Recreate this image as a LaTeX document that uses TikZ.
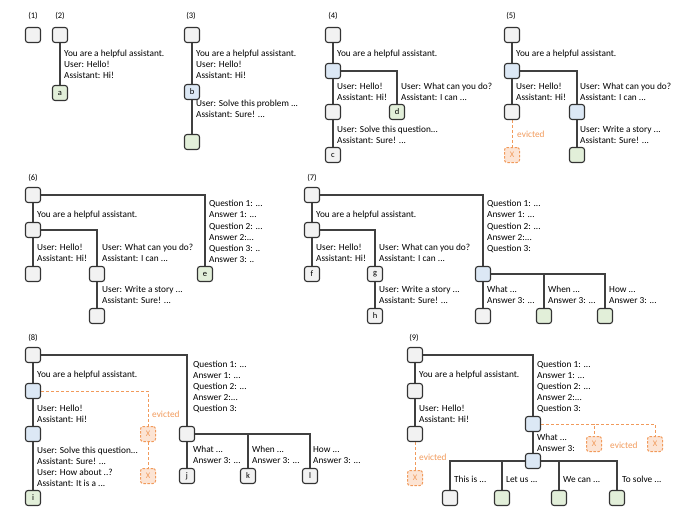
\documentclass[tikz,border=0pt]{standalone}
\usepackage{fontspec}
\setmainfont{Carlito}
\usetikzlibrary{backgrounds}
\definecolor{greyf}{HTML}{F2F2F2}
\definecolor{bluef}{HTML}{DCE8F5}
\definecolor{greenf}{HTML}{E2EFD9}
\definecolor{boxc}{HTML}{333333}
\definecolor{edgec}{HTML}{404040}
\definecolor{orl}{HTML}{F19A5B}
\definecolor{orf}{HTML}{FCE4D4}
\tikzset{
 box/.style={draw=boxc, line width=1.1pt, rounded corners=2.5pt, minimum width=15pt, minimum height=15pt, inner sep=0pt, font=\fontsize{8.5}{8.5}\selectfont},
 gbox/.style={box, fill=greyf},
 bbox/.style={box, fill=bluef},
 nbox/.style={box, fill=greenf},
 xbox/.style={box, draw=orl, line width=1pt, dashed, dash pattern=on 2.5pt off 1.5pt, fill=orf, text=orl, font=\fontsize{8.5}{8.5}\selectfont},
 txt/.style={anchor=base west, inner sep=0pt, yshift=-3.1pt, font=\fontsize{9.3}{9.3}\selectfont},
 etxt/.style={txt, text=orl},
 plab/.style={anchor=base, inner sep=0pt, yshift=-3pt, font=\fontsize{8.5}{8.5}\selectfont},
 edge/.style={draw=edgec, line width=1.1pt},
 eedge/.style={draw=orl, dashed, dash pattern=on 3pt off 2pt, line width=1pt},
}
\begin{document}
\begin{tikzpicture}[x=1pt,y=-1pt]
\useasboundingbox (0,0) rectangle (698,511);
% ---------------- panel 1
\node[plab] (l1) at (33,16) {(1)};
\node[gbox] (p1r) at (33,35) {};
% ---------------- panel 2
\node[plab] (l2) at (60,16) {(2)};
\node[gbox] (p2r) at (60,35) {};
\node[nbox] (p2a) at (60,93) {a};
\node[txt] (t2a) at (64,53) {You are a helpful assistant.};
\node[txt] (t2b) at (64,64) {User: Hello!};
\node[txt] (t2c) at (64,75) {Assistant: Hi!};
% ---------------- panel 3
\node[plab] (l3) at (191,16) {(3)};
\node[gbox] (p3r) at (192,35) {};
\node[bbox] (p3b) at (192,92) {b};
\node[nbox] (p3c) at (192,142) {};
\node[txt] (t3a) at (196,53) {You are a helpful assistant.};
\node[txt] (t3b) at (196,64) {User: Hello!};
\node[txt] (t3c) at (196,75) {Assistant: Hi!};
\node[txt] (t3d) at (196,103) {User: Solve this problem ...};
\node[txt] (t3e) at (196,114) {Assistant: Sure! ...};
% ---------------- panel 4
\node[plab] (l4) at (333,16) {(4)};
\node[gbox] (p4r) at (333,35) {};
\node[bbox] (p4b) at (333,71) {};
\node[gbox] (p4l) at (333,112) {};
\node[nbox] (p4d) at (397,112) {d};
\node[gbox] (p4c) at (333,155) {c};
\node[txt] (t4a) at (337,53) {You are a helpful assistant.};
\node[txt] (t4b) at (337,86) {User: Hello!};
\node[txt] (t4c) at (337,97) {Assistant: Hi!};
\node[txt] (t4d) at (401,86) {User: What can you do?};
\node[txt] (t4e) at (401,97) {Assistant: I can ...};
\node[txt] (t4f) at (337,129) {User: Solve this question...};
\node[txt] (t4g) at (337,140) {Assistant: Sure! ...};
% ---------------- panel 5
\node[plab] (l5) at (511,16) {(5)};
\node[gbox] (p5r) at (512,35) {};
\node[bbox] (p5b) at (512,71) {};
\node[gbox] (p5l) at (512,112) {};
\node[xbox] (p5x) at (512,155) {X};
\node[bbox] (p5m) at (577,112) {};
\node[nbox] (p5n) at (577,155) {};
\node[txt] (t5a) at (516,53) {You are a helpful assistant.};
\node[txt] (t5b) at (516,86) {User: Hello!};
\node[txt] (t5c) at (516,97) {Assistant: Hi!};
\node[txt] (t5d) at (580,86) {User: What can you do?};
\node[txt] (t5e) at (580,97) {Assistant: I can ...};
\node[txt] (t5f) at (580,129) {User: Write a story ...};
\node[txt] (t5g) at (580,140) {Assistant: Sure! ...};
\node[etxt] (t5h) at (517,134) {evicted};
% ---------------- panel 6
\node[plab] (l6) at (33,177) {(6)};
\node[gbox] (p6r) at (33,195) {};
\node[gbox] (p6b) at (33,230) {};
\node[gbox] (p6l) at (33,274) {};
\node[gbox] (p6m) at (97,274) {};
\node[gbox] (p6n) at (97,316) {};
\node[nbox] (p6e) at (205,274) {e};
\node[txt] (t6a) at (37,214) {You are a helpful assistant.};
\node[txt] (t6b) at (37,247) {User: Hello!};
\node[txt] (t6c) at (37,258) {Assistant: Hi!};
\node[txt] (t6d) at (102,247) {User: What can you do?};
\node[txt] (t6e) at (102,258) {Assistant: I can ...};
\node[txt] (t6f) at (102,289) {User: Write a story ...};
\node[txt] (t6g) at (102,300) {Assistant: Sure! ...};
\node[txt] (t6q1) at (209,203) {Question 1: ...};
\node[txt] (t6q2) at (209,214) {Answer 1: ...};
\node[txt] (t6q3) at (209,226) {Question 2: ...};
\node[txt] (t6q4) at (209,237) {Answer 2:...};
\node[txt] (t6q5) at (209,248) {Question 3: ..};
\node[txt] (t6q6) at (209,259) {Answer 3: ..};
% ---------------- panel 7
\node[plab] (l7) at (312,177) {(7)};
\node[gbox] (p7r) at (312,195) {};
\node[gbox] (p7b) at (312,230) {};
\node[gbox] (p7f) at (312,274) {f};
\node[gbox] (p7g) at (375,274) {g};
\node[gbox] (p7h) at (375,316) {h};
\node[bbox] (p7q) at (483,274) {};
\node[gbox] (p7c1) at (483,316) {};
\node[nbox] (p7c2) at (544,316) {};
\node[nbox] (p7c3) at (605,316) {};
\node[txt] (t7a) at (316,214) {You are a helpful assistant.};
\node[txt] (t7b) at (316,247) {User: Hello!};
\node[txt] (t7c) at (316,258) {Assistant: Hi!};
\node[txt] (t7d) at (379,247) {User: What can you do?};
\node[txt] (t7e) at (379,258) {Assistant: I can ...};
\node[txt] (t7f) at (379,289) {User: Write a story ...};
\node[txt] (t7g) at (379,300) {Assistant: Sure! ...};
\node[txt] (t7q1) at (487,203) {Question 1: ...};
\node[txt] (t7q2) at (487,214) {Answer 1: ...};
\node[txt] (t7q3) at (487,226) {Question 2: ...};
\node[txt] (t7q4) at (487,237) {Answer 2:...};
\node[txt] (t7q5) at (487,248) {Question 3:};
\node[txt] (t7w1) at (487,289) {What ...};
\node[txt] (t7w2) at (487,300) {Answer 3: ...};
\node[txt] (t7w3) at (548,289) {When ...};
\node[txt] (t7w4) at (548,300) {Answer 3: ...};
\node[txt] (t7w5) at (609,289) {How ...};
\node[txt] (t7w6) at (609,300) {Answer 3: ...};
% ---------------- panel 8
\node[plab] (l8) at (33,337) {(8)};
\node[gbox] (p8r) at (33,355) {};
\node[bbox] (p8b) at (33,391) {};
\node[bbox] (p8c) at (33,434) {};
\node[nbox] (p8i) at (33,498) {i};
\node[xbox] (p8x1) at (148,434) {X};
\node[xbox] (p8x2) at (148,476) {X};
\node[gbox] (p8q) at (187,434) {};
\node[gbox] (p8j) at (187,476) {j};
\node[gbox] (p8k) at (248,476) {k};
\node[gbox] (p8l) at (310,476) {l};
\node[txt] (t8a) at (37,374) {You are a helpful assistant.};
\node[txt] (t8b) at (37,408) {User: Hello!};
\node[txt] (t8c) at (37,419) {Assistant: Hi!};
\node[txt] (t8d) at (37,450) {User: Solve this question...};
\node[txt] (t8e) at (37,461) {Assistant: Sure! ...};
\node[txt] (t8f) at (37,472) {User: How about ..?};
\node[txt] (t8g) at (37,483) {Assistant: It is a ...};
\node[etxt] (t8h) at (152,414) {evicted};
\node[txt] (t8q1) at (193,364) {Question 1: ...};
\node[txt] (t8q2) at (193,375) {Answer 1: ...};
\node[txt] (t8q3) at (193,386) {Question 2: ...};
\node[txt] (t8q4) at (193,397) {Answer 2:...};
\node[txt] (t8q5) at (193,408) {Question 3:};
\node[txt] (t8w1) at (193,449) {What ...};
\node[txt] (t8w2) at (193,460) {Answer 3: ...};
\node[txt] (t8w3) at (252,449) {When ...};
\node[txt] (t8w4) at (252,460) {Answer 3: ...};
\node[txt] (t8w5) at (313,449) {How ...};
\node[txt] (t8w6) at (313,460) {Answer 3: ...};
% ---------------- panel 9
\node[plab] (l9) at (414,337) {(9)};
\node[gbox] (p9r) at (415,355) {};
\node[gbox] (p9b) at (415,391) {};
\node[gbox] (p9c) at (415,434) {};
\node[xbox] (p9x) at (415,478) {X};
\node[bbox] (p9q) at (533,424) {};
\node[xbox] (p9x1) at (594,444) {X};
\node[xbox] (p9x2) at (655,444) {X};
\node[bbox] (p9s) at (533,461) {};
\node[gbox] (p9c1) at (450,498) {};
\node[nbox] (p9c2) at (502,498) {};
\node[nbox] (p9c3) at (559,498) {};
\node[nbox] (p9c4) at (617,498) {};
\node[txt] (t9a) at (419,374) {You are a helpful assistant.};
\node[txt] (t9b) at (419,408) {User: Hello!};
\node[txt] (t9c) at (419,419) {Assistant: Hi!};
\node[etxt] (t9d) at (419,457) {evicted};
\node[txt] (t9q1) at (537,364) {Question 1: ...};
\node[txt] (t9q2) at (537,375) {Answer 1: ...};
\node[txt] (t9q3) at (537,386) {Question 2: ...};
\node[txt] (t9q4) at (537,397) {Answer 2:...};
\node[txt] (t9q5) at (537,408) {Question 3:};
\node[txt] (t9w1) at (537,437) {What ...};
\node[txt] (t9w2) at (537,448) {Answer 3:};
\node[etxt] (t9e) at (610,445) {evicted};
\node[txt] (t9y1) at (454,479) {This is ...};
\node[txt] (t9y2) at (506,479) {Let us ...};
\node[txt] (t9y3) at (563,479) {We can ...};
\node[txt] (t9y4) at (622,479) {To solve ...};
% ---------------- connectors
\begin{scope}[on background layer]
\draw[edge] (p2r) -- (p2a);
\draw[edge] (p3r) -- (p3b) -- (p3c);
\draw[edge] (p4r) -- (p4b) -- (p4l) -- (p4c);
\draw[edge] (p4b.east) -| (p4d.north);
\draw[edge] (p5r) -- (p5b) -- (p5l);
\draw[edge] (p5b.east) -| (p5m.north);
\draw[edge] (p5m) -- (p5n);
\draw[eedge] (p5l) -- (p5x);
\draw[edge] (p6r) -- (p6b) -- (p6l);
\draw[edge] (p6b.east) -| (p6m.north);
\draw[edge] (p6m) -- (p6n);
\draw[edge] (p6r.east) -| (p6e.north);
\draw[edge] (p7r) -- (p7b) -- (p7f);
\draw[edge] (p7b.east) -| (p7g.north);
\draw[edge] (p7g) -- (p7h);
\draw[edge] (p7r.east) -| (p7q.north);
\draw[edge] (p7q) -- (p7c1);
\draw[edge] (p7q.east) -| (p7c2.north);
\draw[edge] (p7q.east) -| (p7c3.north);
\draw[edge] (p8r) -- (p8b) -- (p8c) -- (p8i);
\draw[eedge] (p8b.east) -| (p8x1.north);
\draw[eedge] (p8x1) -- (p8x2);
\draw[edge] (p8r.east) -| (p8q.north);
\draw[edge] (p8q) -- (p8j);
\draw[edge] (p8q.east) -| (p8k.north);
\draw[edge] (p8q.east) -| (p8l.north);
\draw[edge] (p9r) -- (p9b) -- (p9c);
\draw[eedge] (p9c) -- (p9x);
\draw[edge] (p9r.east) -| (p9q.north);
\draw[eedge] (p9q.east) -| (p9x1.north);
\draw[eedge] (p9q.east) -| (p9x2.north);
\draw[edge] (p9q) -- (p9s);
\draw[edge] (p9s.west) -| (p9c1.north);
\draw[edge] (p9s.west) -| (p9c2.north);
\draw[edge] (p9s.east) -| (p9c3.north);
\draw[edge] (p9s.east) -| (p9c4.north);
\end{scope}
\end{tikzpicture}
\end{document}
